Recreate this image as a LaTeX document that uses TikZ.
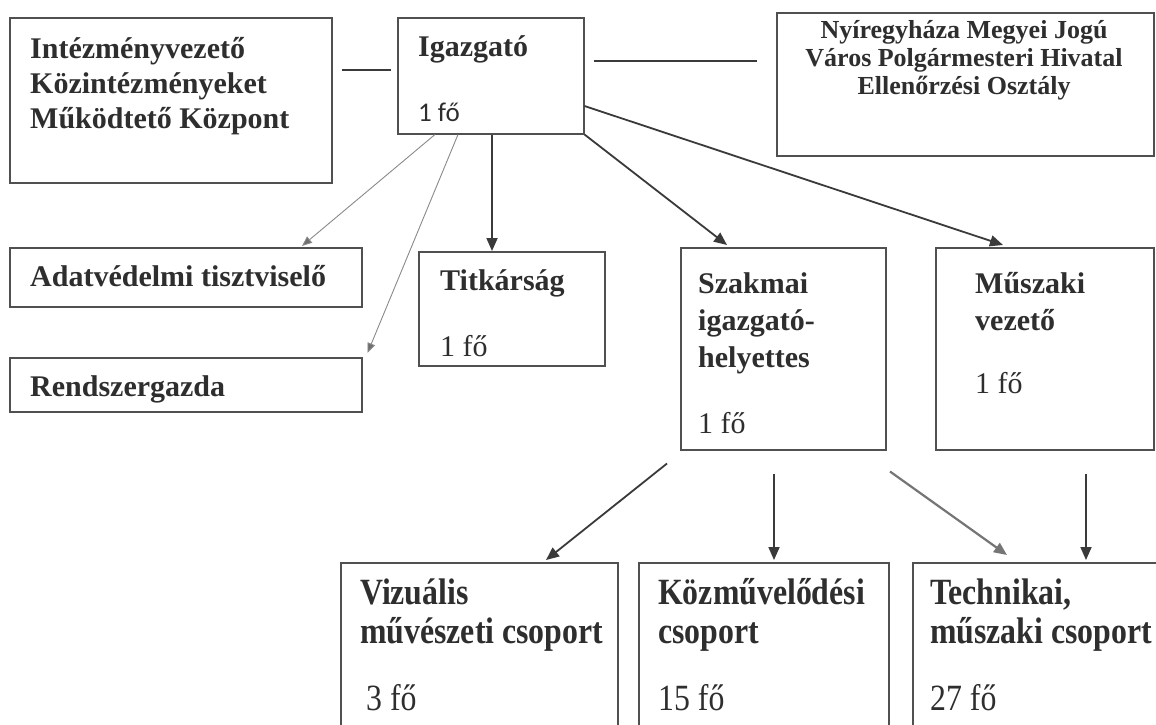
\documentclass[tikz,border=0pt]{standalone}
\usepackage{fontspec}
\setmainfont{Liberation Serif}
\newfontfamily\calfont{Carlito}
\newfontfamily\condfont[FakeStretch=0.86]{Liberation Serif}
\usetikzlibrary{arrows.meta,calc}
\definecolor{ln}{HTML}{3A3A3A}
\definecolor{bx}{HTML}{505050}
\definecolor{lg}{HTML}{8A8A8A}
\definecolor{tx}{HTML}{2E2E2E}
\begin{document}
\begin{tikzpicture}[x=1pt,y=-1pt,
  box/.style={draw=bx, line width=1.5pt, anchor=north west, inner sep=0pt},
  ttl/.style={anchor=base west, inner sep=0pt, text=tx, font=\fontsize{30}{34}\selectfont\bfseries},
  ttlc/.style={anchor=base, inner sep=0pt, text=tx, font=\fontsize{26}{29}\selectfont\bfseries},
  cnt/.style={anchor=base west, inner sep=0pt, text=tx, font=\fontsize{30}{34}\selectfont},
  cntc/.style={anchor=base west, inner sep=0pt, text=tx, font=\fontsize{27}{30}\selectfont\calfont},
  bttl/.style={anchor=base west, inner sep=0pt, text=tx, font=\fontsize{37}{40}\selectfont\condfont\bfseries},
  bcnt/.style={anchor=base west, inner sep=0pt, text=tx, font=\fontsize{37}{40}\selectfont\condfont},
  darr/.style={draw=ln, line width=1.8pt, -{Triangle[length=13pt,width=11pt]}},
  garr/.style={draw=lg, line width=0.9pt, -{Triangle[length=10pt,width=8pt,fill=lg!80!black]}},
  marr/.style={draw=ln!70, line width=2.2pt, -{Triangle[length=13pt,width=11pt]}},
  link/.style={draw=ln, line width=1.8pt}
]
\useasboundingbox (0,0) rectangle (1156,724);
\clip (0,0) rectangle (1156,724);
\fill[white] (0,0) rectangle (1156,724);

% boxes
\node[box, minimum width=322pt, minimum height=165pt] (intez) at (9,17) {};
\node[box, minimum width=186pt, minimum height=116pt] (igaz) at (397,17) {};
\node[box, minimum width=377pt, minimum height=143pt] (nyir) at (776,12) {};
\node[box, minimum width=352pt, minimum height=59pt] (adat) at (9,247) {};
\node[box, minimum width=352pt, minimum height=54pt] (rend) at (9,357) {};
\node[box, minimum width=186pt, minimum height=114pt] (titk) at (418,251) {};
\node[box, minimum width=205pt, minimum height=202pt] (szak) at (680,247) {};
\node[box, minimum width=218pt, minimum height=202pt] (musz) at (935,247) {};
\node[box, minimum width=277pt, minimum height=200pt] (vizu) at (340,562) {};
\node[box, minimum width=250pt, minimum height=200pt] (kozm) at (638,562) {};
\node[box, minimum width=260pt, minimum height=200pt] (tech) at (912,562) {};

% texts
\node[ttl] (intez1) at (30,58) {Intézményvezető};
\node[ttl] (intez2) at (30,93) {Közintézményeket};
\node[ttl] (intez3) at (30,128) {Működtető Központ};
\node[ttl] (igaz1) at (418,56) {Igazgató};
\node[cntc] (igaz2) at (418,121) {1 fő};
\node[ttlc] (nyir1) at (964,38) {Nyíregyháza Megyei Jogú};
\node[ttlc] (nyir2) at (964,66) {Város Polgármesteri Hivatal};
\node[ttlc] (nyir3) at (964,94) {Ellenőrzési Osztály};
\node[ttl] (adat1) at (30,286) {Adatvédelmi tisztviselő};
\node[ttl] (rend1) at (30,396) {Rendszergazda};
\node[ttl] (titk1) at (440,290) {Titkárság};
\node[cnt] (titk2) at (440,356) {1 fő};
\node[ttl] (szak1) at (698,293) {Szakmai};
\node[ttl] (szak2) at (698,330) {igazgató-};
\node[ttl] (szak3) at (698,367) {helyettes};
\node[cnt] (szak4) at (698,433) {1 fő};
\node[ttl] (musz1) at (975,293) {Műszaki};
\node[ttl] (musz2) at (975,330) {vezető};
\node[cnt] (musz3) at (975,393) {1 fő};
\node[bttl] (vizu1) at (360,604) {Vizuális};
\node[bttl] (vizu2) at (360,643) {művészeti csoport};
\node[bcnt] (vizu3) at (366,710) {3 fő};
\node[bttl] (kozm1) at (658,604) {Közművelődési};
\node[bttl] (kozm2) at (658,643) {csoport};
\node[bcnt] (kozm3) at (658,710) {15 fő};
\node[bttl] (tech1) at (930,604) {Technikai,};
\node[bttl] (tech2) at (930,643) {műszaki csoport};
\node[bcnt] (tech3) at (930,710) {27 fő};

% free connector ends below Szakmai / Műszaki
\coordinate (s1) at ($(szak.south west)+(-13,13)$);
\coordinate (s2) at ($(szak.south west)+(94,23)$);
\coordinate (s3) at ($(szak.south west)+(210,21)$);
\coordinate (s4) at ($(musz.south west)+(151,23)$);

% connectors
\draw[link] ($(intez.north east)+(9,53)$) -- ($(igaz.north west)+(-6,53)$);
\draw[link] ($(igaz.north east)+(9,44)$) -- ($(nyir.north west)+(-19,49)$);
\draw[garr] ($(igaz.south west)+(38,0)$) -- ($(adat.north west)+(293,-1)$);
\draw[garr] ($(igaz.south west)+(61,0)$) -- ($(rend.north east)+(5,-4)$);
\draw[darr] ($(igaz.south west)+(95,0)$) -- ($(titk.north west)+(74,0)$);
\draw[darr] (igaz.south east) -- ($(szak.north west)+(47,-2)$);
\draw[darr] ($(igaz.north east)+(0,89)$) -- ($(musz.north west)+(68,-2)$);
\draw[darr] (s1) -- ($(vizu.north west)+(206,-2)$);
\draw[darr] (s2) -- ($(kozm.north west)+(136,-2)$);
\draw[marr] (s3) -- ($(tech.north west)+(95,-7)$);
\draw[darr] (s4) -- ($(tech.north west)+(174,-2)$);
\end{tikzpicture}
\end{document}
